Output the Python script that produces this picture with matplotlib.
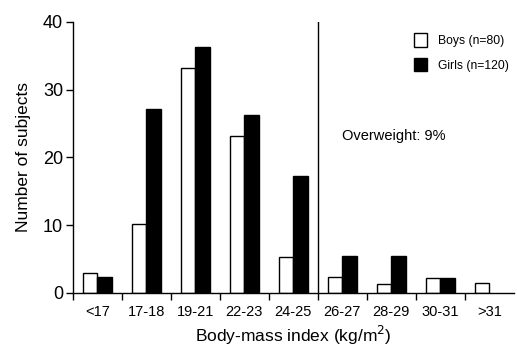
import matplotlib.pyplot as plt
import numpy as np

plt.rcParams["font.family"] = ["Liberation Sans", "DejaVu Sans"]

categories = ["<17", "17-18", "19-21", "22-23", "24-25", "26-27", "28-29", "30-31", ">31"]
boys = [3, 10.1, 33.2, 23.1, 5.3, 2.3, 1.3, 2.2, 1.4]
girls = [2.3, 27.2, 36.3, 26.2, 17.2, 5.5, 5.5, 2.2, 0]
ticks_y = [0, 10, 20, 30, 40]

fig = plt.figure(figsize=(5.17, 3.47), dpi=100)
ax = fig.add_axes([0.141, 0.156, 0.853, 0.781])

x = np.arange(len(categories))
w = 0.3
ax.bar(x + 0.5 - w, boys, width=w, align="edge", color="white",
       edgecolor="black", lw=1.0, label="Boys (n=80)")
ax.bar(x + 0.5, [g if g > 0 else np.nan for g in girls], width=w, align="edge",
       color="black", edgecolor="black", lw=1.0, label="Girls (n=120)")

# cut-off between normal and overweight
ax.axvline(5, color="black", lw=1.0)
ax.text(5.5, 23.2, "Overweight: 9%", fontsize=10.5, va="center", ha="left")

ax.set_xlim(0, 9)
ax.set_ylim(0, 40)
ax.set_xticks(np.arange(9))
ax.set_xticklabels([])
ax.set_xticks(x + 0.5, minor=True)
ax.set_xticklabels(categories, minor=True, fontsize=10.5)
ax.tick_params(axis="x", which="major", length=5, width=1, direction="out")
ax.tick_params(axis="x", which="minor", length=0, pad=9)
ax.set_yticks(ticks_y)
ax.tick_params(axis="y", length=5, width=1, labelsize=13, pad=2)

for s in ["top", "right"]:
    ax.spines[s].set_visible(False)
for s in ["left", "bottom"]:
    ax.spines[s].set_linewidth(1.0)

ax.set_ylabel("Number of subjects", fontsize=12.5, labelpad=9)
ax.set_xlabel("Body-mass index (kg/m$^2$)", fontsize=12.5, labelpad=3)

ax.legend(loc="upper right", bbox_to_anchor=(1.0, 0.975), frameon=False,
          fontsize=8.7, handlelength=1.1, handleheight=1.3, handletextpad=0.9,
          labelspacing=0.9, borderaxespad=0)

fig.savefig("out.png", dpi=100)
